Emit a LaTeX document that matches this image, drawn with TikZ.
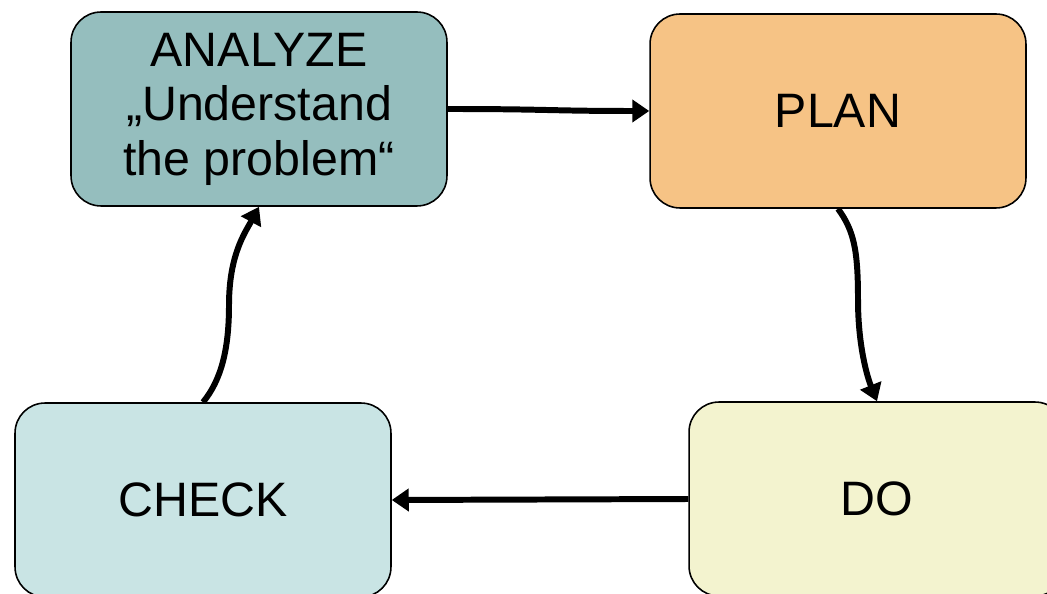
\documentclass[tikz,border=0pt]{standalone}
\usepackage{fontspec}
\setmainfont{Liberation Sans}
\usetikzlibrary{positioning,arrows.meta}

\definecolor{analyzefill}{HTML}{95BEBE}
\definecolor{planfill}{HTML}{F6C385}
\definecolor{dofill}{HTML}{F3F3CF}
\definecolor{checkfill}{HTML}{C9E4E4}

\begin{document}
\begin{tikzpicture}[x=0.02cm,y=-0.02cm]
        \tikzstyle{phase} = [draw,line width=0.9pt,rounded corners=0.6cm,minimum width=7.52cm,minimum height=3.88cm,align=center,font=\fontsize{27.5}{31}\selectfont]
        \tikzstyle{flow} = [line width=3.4pt,-{Triangle[length=0.34cm,width=0.44cm]}]
        \useasboundingbox (0,0) rectangle (1047,594);
        \clip (0,0) rectangle (1047,594);
        \node [phase, fill=analyzefill] (analyze) at (259,109) {ANALYZE\\„Understand\\the problem“};
        \node [phase, fill=planfill] (plan) at (838,111) {PLAN};
        \node [phase, fill=dofill] (do) at (877,499) {DO};
        \node [phase, fill=checkfill] (check) at (203,500) {CHECK};
        \coordinate (rightbend) at (858,300);
        \coordinate (leftbend) at (229,305);
        \draw[flow] (analyze.east) .. controls +(100,0) and +(-100,0) .. (plan.west);
        \draw[flow] (plan.south) .. controls +(16,22) and +(0,-50) .. (rightbend) .. controls +(0,45) and +(-10,-25) .. (do.north);
        \draw[flow] (do.west) -- (check.east);
        \draw[flow] (check.north) .. controls +(18,-22) and +(0,45) .. (leftbend) .. controls +(0,-50) and +(-14,26) .. (analyze.south);
      \end{tikzpicture}
\end{document}
